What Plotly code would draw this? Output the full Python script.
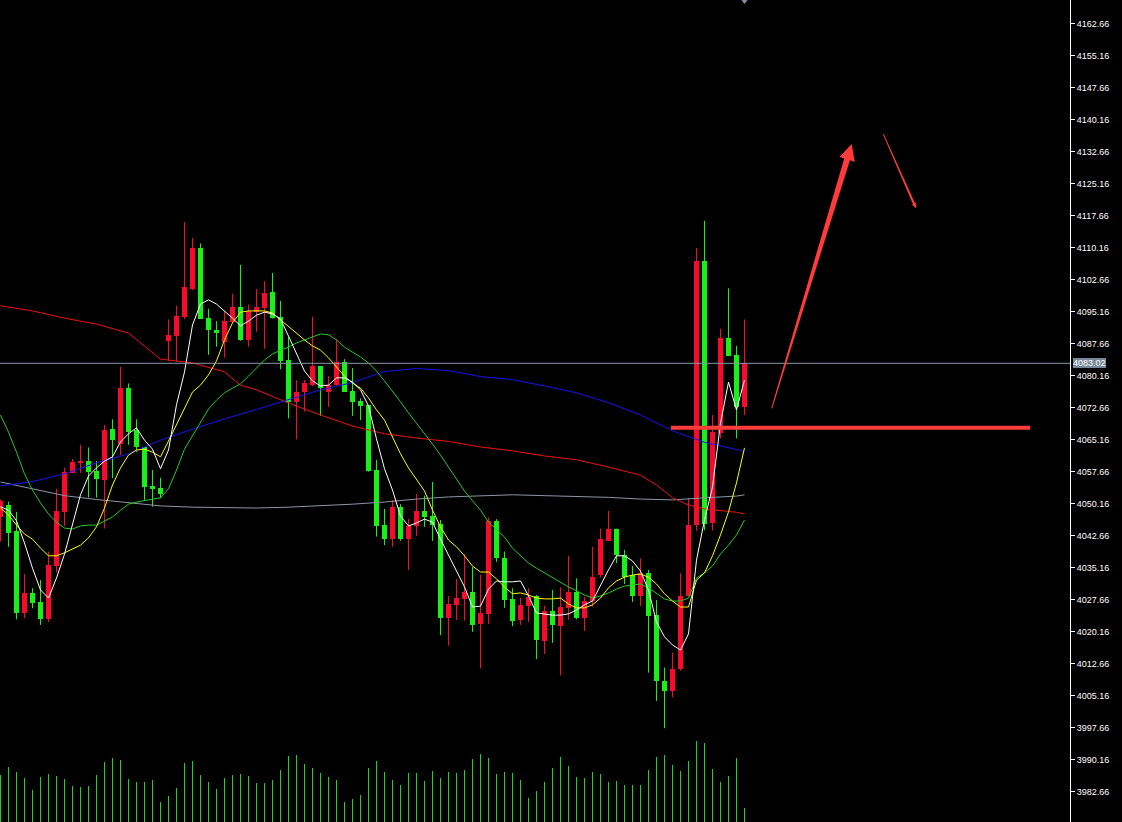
import plotly.graph_objects as go

# ---------------- data ----------------
opens = [4046.9, 4049.8, 4043.6, 4024.6, 4029.1, 4027.0, 4023.0, 4035.6, 4048.2, 4057.4,
         4059.7, 4060.1, 4057.8, 4055.7, 4067.6, 4064.1, 4077.3, 4067.4, 4063.3, 4054.3,
         4053.8, 4088.3, 4089.5, 4093.9, 4100.4, 4110.0, 4093.7, 4090.8, 4087.9, 4092.7,
         4096.2, 4088.5, 4095.1, 4096.0, 4099.7, 4093.9, 4083.8, 4074.0, 4076.2, 4077.9,
         4082.4, 4076.4, 4077.9, 4083.3, 4076.5, 4074.2, 4073.2, 4058.0, 4045.1, 4041.8,
         4049.3, 4041.8, 4044.9, 4048.4, 4047.3, 4045.4, 4023.3, 4026.4, 4027.8, 4029.5,
         4021.9, 4024.3, 4046.1, 4037.5, 4027.8, 4022.9, 4026.2, 4028.5, 4017.9, 4024.9,
         4021.4, 4025.7, 4029.4, 4023.4, 4027.4, 4033.5, 4041.4, 4044.2, 4038.1, 4033.4,
         4028.5, 4033.8, 4024.0, 4008.6, 4006.2, 4011.4, 4028.5, 4045.1, 4107.1, 4045.7,
         4066.8, 4088.9, 4085.0, 4072.8]
highs = [4051.1, 4050.6, 4048.2, 4033.6, 4030.3, 4032.2, 4038.9, 4053.6, 4058.6, 4060.6,
         4063.9, 4063.3, 4060.1, 4068.6, 4069.9, 4082.2, 4078.3, 4069.9, 4063.4, 4058.0,
         4056.2, 4093.3, 4096.5, 4116.1, 4112.4, 4111.1, 4095.8, 4092.9, 4095.3, 4099.3,
         4106.1, 4096.8, 4100.4, 4102.3, 4104.2, 4097.6, 4089.3, 4079.1, 4079.1, 4093.9,
         4082.4, 4080.0, 4088.7, 4084.0, 4081.9, 4074.8, 4073.3, 4060.4, 4048.9, 4051.0,
         4050.0, 4046.5, 4052.4, 4052.0, 4055.2, 4046.3, 4028.5, 4032.5, 4038.3, 4035.3,
         4033.4, 4046.9, 4046.5, 4038.9, 4030.3, 4028.1, 4030.3, 4028.7, 4026.2, 4029.9,
         4030.5, 4037.9, 4032.6, 4028.3, 4040.0, 4044.3, 4048.4, 4044.3, 4039.3, 4035.5,
         4037.3, 4034.6, 4027.5, 4011.7, 4015.2, 4033.8, 4051.4, 4110.0, 4116.4, 4070.9,
         4091.1, 4100.6, 4087.1, 4093.3]
lows = [4041.2, 4040.0, 4023.0, 4023.3, 4025.6, 4021.7, 4022.4, 4034.0, 4044.9, 4057.3,
        4057.3, 4051.6, 4051.5, 4044.3, 4056.1, 4061.5, 4063.9, 4062.2, 4051.0, 4049.4,
        4051.4, 4083.6, 4083.4, 4093.4, 4100.2, 4093.5, 4085.0, 4086.9, 4084.3, 4092.5,
        4088.3, 4086.9, 4090.4, 4086.4, 4093.5, 4081.6, 4070.1, 4065.2, 4071.7, 4077.7,
        4070.7, 4072.8, 4077.8, 4076.3, 4070.7, 4069.7, 4057.6, 4042.4, 4040.4, 4040.0,
        4041.4, 4034.6, 4042.6, 4044.7, 4041.4, 4019.3, 4016.8, 4022.9, 4022.7, 4020.1,
        4011.5, 4021.9, 4036.5, 4025.7, 4021.4, 4021.7, 4022.4, 4013.7, 4014.9, 4017.5,
        4009.9, 4022.9, 4023.0, 4020.3, 4026.0, 4032.8, 4041.3, 4036.2, 4031.3, 4027.1,
        4026.1, 4010.5, 4003.9, 3997.5, 4004.7, 4011.0, 4028.4, 4043.8, 4043.9, 4043.8,
        4065.4, 4084.7, 4065.4, 4070.9]
closes = [4050.8, 4043.3, 4024.6, 4029.1, 4026.9, 4023.0, 4035.7, 4048.4, 4057.5, 4059.8,
          4060.2, 4057.6, 4055.9, 4067.4, 4065.0, 4077.3, 4067.0, 4063.3, 4054.1, 4053.6,
          4052.4, 4089.7, 4094.1, 4100.9, 4110.0, 4093.5, 4090.9, 4090.2, 4092.9, 4096.2,
          4088.5, 4095.3, 4096.2, 4099.6, 4093.6, 4083.6, 4074.0, 4076.3, 4078.4, 4082.4,
          4077.2, 4077.9, 4083.3, 4076.4, 4074.0, 4073.1, 4057.8, 4044.9, 4041.8, 4049.3,
          4041.8, 4044.9, 4048.4, 4047.1, 4045.1, 4023.3, 4026.6, 4028.1, 4029.5, 4021.7,
          4024.6, 4046.1, 4037.4, 4027.5, 4022.6, 4026.4, 4028.3, 4018.2, 4025.0, 4021.7,
          4025.9, 4029.4, 4023.3, 4027.4, 4032.9, 4041.8, 4044.2, 4038.1, 4032.9, 4028.5,
          4033.8, 4023.8, 4008.6, 4006.2, 4011.4, 4028.5, 4045.1, 4107.1, 4045.4, 4067.0,
          4088.9, 4084.8, 4072.7, 4083.02]
volumes = [47, 55, 50, 44, 32, 45, 48, 46, 43, 36, 35, 36, 47, 60, 64, 62, 43, 40, 40, 42,
           20, 26, 34, 59, 61, 47, 40, 33, 44, 47, 48, 46, 39, 39, 42, 52, 66, 67, 58, 54,
           49, 45, 42, 20, 23, 27, 54, 61, 50, 42, 37, 49, 49, 41, 51, 44, 50, 49, 52, 63,
           68, 64, 48, 50, 49, 42, 24, 31, 40, 54, 65, 56, 45, 44, 50, 48, 40, 41, 37, 37,
           37, 52, 65, 67, 57, 51, 61, 81, 79, 53, 40, 46, 64, 14]

ma5 = [4049.4, 4048.6, 4046.1, 4040.9, 4035.0, 4029.9, 4028.0, 4032.7, 4038.3, 4045.1,
       4052.2, 4056.6, 4058.5, 4060.1, 4061.1, 4064.6, 4066.5, 4067.9, 4065.0, 4062.9,
       4058.3, 4062.7, 4073.3, 4081.0, 4092.0, 4096.9, 4097.9, 4096.9, 4095.3, 4093.6,
       4091.8, 4092.9, 4094.3, 4095.0, 4094.6, 4093.4, 4089.4, 4085.4, 4081.2, 4078.9,
       4077.7, 4077.9, 4079.6, 4079.6, 4078.6, 4076.8, 4073.0, 4065.3, 4058.3, 4053.3,
       4047.2, 4044.9, 4045.6, 4046.5, 4045.8, 4041.8, 4038.1, 4034.1, 4030.6, 4025.9,
       4026.1, 4030.1, 4032.0, 4031.8, 4031.8, 4032.0, 4028.5, 4024.5, 4024.3, 4024.0,
       4024.0, 4024.3, 4025.2, 4026.4, 4027.3, 4031.1, 4034.6, 4037.9, 4037.9, 4036.7,
       4034.3, 4029.9, 4022.4, 4018.9, 4017.0, 4015.8, 4019.6, 4036.9, 4046.3, 4054.0,
       4069.0, 4078.6, 4072.1, 4079.1]
ma10 = [4049.1, 4047.5, 4045.1, 4043.0, 4041.8, 4039.7, 4037.9, 4037.9, 4038.6, 4039.5,
        4040.4, 4042.1, 4044.7, 4049.1, 4054.5, 4058.5, 4061.5, 4062.7, 4062.9, 4062.2,
        4061.1, 4064.8, 4068.6, 4072.3, 4076.3, 4077.9, 4080.3, 4083.6, 4088.5, 4092.5,
        4095.0, 4095.3, 4095.3, 4095.3, 4094.8, 4093.2, 4091.5, 4089.9, 4088.5, 4087.1,
        4086.1, 4084.3, 4082.2, 4080.0, 4078.4, 4077.2, 4074.9, 4072.1, 4069.7, 4065.8,
        4061.8, 4058.5, 4055.7, 4053.1, 4048.6, 4044.7, 4041.6, 4040.0, 4037.9, 4035.5,
        4034.1, 4034.1, 4032.5, 4030.6, 4029.0, 4029.2, 4028.7, 4028.0, 4027.8, 4027.8,
        4028.0, 4026.6, 4025.7, 4025.7, 4026.4, 4028.0, 4030.4, 4032.0, 4032.9, 4033.4,
        4033.6, 4032.9, 4031.3, 4029.0, 4027.3, 4025.9, 4025.9, 4032.2, 4033.9, 4037.9,
        4042.8, 4048.2, 4055.0, 4063.2]
ma20 = [4070.9, 4066.9, 4062.2, 4057.1, 4053.3, 4050.3, 4047.7, 4045.8, 4044.4, 4044.2,
        4044.9, 4045.1, 4045.1, 4046.1, 4047.0, 4048.6, 4050.0, 4050.5, 4050.8, 4051.2,
        4051.5, 4053.6, 4058.0, 4062.9, 4066.0, 4069.0, 4072.3, 4074.4, 4076.1, 4077.2,
        4078.2, 4080.0, 4081.9, 4083.8, 4085.2, 4086.1, 4086.8, 4087.8, 4088.5, 4089.2,
        4089.9, 4089.7, 4088.5, 4086.8, 4085.7, 4084.5, 4083.1, 4081.2, 4078.9, 4076.5,
        4074.0, 4071.4, 4069.0, 4066.7, 4064.1, 4061.5, 4058.7, 4055.9, 4053.1, 4050.8,
        4048.6, 4045.8, 4044.0, 4042.3, 4039.7, 4037.9, 4036.2, 4035.0, 4033.9, 4032.7,
        4031.5, 4030.6, 4029.7, 4028.7, 4028.0, 4028.5, 4029.2, 4030.1, 4030.8, 4031.1,
        4031.3, 4030.4, 4029.2, 4027.8, 4027.3, 4027.3, 4028.0, 4032.7, 4033.9, 4035.5,
        4038.3, 4040.4, 4042.8, 4046.3]

ma60_idx = [0, 4, 8, 12, 16, 20, 24, 28, 32, 36, 40, 44, 48, 52, 56, 60, 64, 68, 72, 76,
            80, 84, 88, 92, 93]
ma60 = [4054.3, 4055.3, 4057.1, 4059.7, 4061.8, 4065.0, 4067.6, 4070.0, 4072.2, 4074.5,
        4076.8, 4078.5, 4081.1, 4081.8, 4081.3, 4079.9, 4079.2, 4077.7, 4076.1, 4073.8,
        4070.9, 4067.2, 4064.5, 4062.8, 4062.3]

ma120_idx = [0, 4, 8, 12, 16, 18, 20, 24, 28, 30, 32, 36, 40, 44, 48, 52, 56, 60, 64, 68,
             72, 76, 80, 82, 84, 86, 88, 92, 93]
ma120 = [4096.5, 4095.3, 4093.6, 4092.2, 4090.1, 4087.1, 4084.0, 4083.1, 4081.0, 4077.9,
         4076.8, 4073.7, 4070.9, 4068.3, 4066.5, 4065.5, 4064.7, 4063.4, 4062.5, 4061.3,
         4060.4, 4058.7, 4056.8, 4054.5, 4051.5, 4049.8, 4048.9, 4048.1, 4047.7]

ma250_idx = [0, 4, 8, 12, 16, 20, 24, 28, 32, 36, 40, 44, 48, 52, 56, 60, 64, 68, 72, 76,
             80, 84, 88, 92, 93]
ma250 = [4055.2, 4053.6, 4052.0, 4051.1, 4050.3, 4049.6, 4049.3, 4049.2, 4049.1, 4049.3,
         4049.6, 4050.0, 4050.5, 4051.2, 4051.7, 4052.0, 4052.2, 4052.0, 4051.8, 4051.6,
         4051.2, 4051.0, 4051.5, 4051.9, 4052.2]

tick_labels = ["3982.66", "3990.16", "3997.66", "4005.16", "4012.66", "4020.16", "4027.66",
               "4035.16", "4042.66", "4050.16", "4057.66", "4065.16", "4072.66", "4080.16",
               "4087.66", "4095.16", "4102.66", "4110.16", "4117.66", "4125.16", "4132.66",
               "4140.16", "4147.66", "4155.16", "4162.66"]
last_price = 4083.02
last_price_text = "4083.02"
support_level = 4067.9
support_span = [83.8, 128.7]
up_arrow = [(96.40, 4072.47), (106.40, 4134.42)]      # tail, tip
down_arrow = [(110.35, 4136.76), (114.44, 4119.35)]   # tail, tip

# ---------------- styling / geometry ----------------
W, H = 1122, 822
R_MARGIN = 52
X_RANGE = [-0.0625, 133.6875]
Y_RANGE = [3975.51, 4168.17]
PX_X = (W - R_MARGIN) / (X_RANGE[1] - X_RANGE[0])
PX_Y = H / (Y_RANGE[1] - Y_RANGE[0])

UP = "#FA0A28"
DOWN = "#18F018"
VOL = "#1ED41E"
ARROW = "#FF3B3B"

n = len(closes)
idx = list(range(n))
is_up = [c >= o for o, c in zip(opens, closes)]

fig = go.Figure()

# volume (secondary axis)
vx, vy = [], []
for i, v in enumerate(volumes):
    vx += [i, i, None]
    vy += [0, v, None]
fig.add_trace(go.Scatter(x=vx, y=vy, mode="lines", yaxis="y2",
                         line=dict(color=VOL, width=1), hoverinfo="skip"))

# wicks
for flag, col in ((True, UP), (False, DOWN)):
    wx, wy = [], []
    for i in idx:
        if is_up[i] == flag:
            wx += [i, i, None]
            wy += [lows[i], highs[i], None]
    fig.add_trace(go.Scatter(x=wx, y=wy, mode="lines",
                             line=dict(color=col, width=1), hoverinfo="skip"))

# bodies
bases = [min(o, c) for o, c in zip(opens, closes)]
heights = [max(abs(c - o), 0.3) for o, c in zip(opens, closes)]
fig.add_trace(go.Bar(x=idx, base=bases, y=heights, width=0.625,
                     marker=dict(color=[UP if u else DOWN for u in is_up], line=dict(width=0)),
                     hoverinfo="skip"))

# moving averages
for xs, ys, col in ((ma250_idx, ma250, "#8C96A8"),
                    (ma120_idx, ma120, "#F01010"),
                    (ma60_idx, ma60, "#1414F0"),
                    (idx, ma20, "#22CC22"),
                    (idx, ma10, "#FFFF00"),
                    (idx, ma5, "#FFFFFF")):
    fig.add_trace(go.Scatter(x=xs, y=ys, mode="lines",
                             line=dict(color=col, width=1), hoverinfo="skip"))

# small marker at top
fig.add_trace(go.Scatter(x=[n - 1], y=[Y_RANGE[1]], mode="markers",
                         marker=dict(symbol="triangle-down", size=8, color="#7F90A4"),
                         hoverinfo="skip"))


def to_px(pt):
    return ((pt[0] - X_RANGE[0]) * PX_X, (Y_RANGE[1] - pt[1]) * PX_Y)


def to_data(p):
    return (p[0] / PX_X + X_RANGE[0], Y_RANGE[1] - p[1] / PX_Y)


def arrow_path(tail, tip, w_tail, w_shaft, w_head, l_head):
    tx, ty = to_px(tail)
    hx, hy = to_px(tip)
    dx, dy = hx - tx, hy - ty
    L = (dx * dx + dy * dy) ** 0.5
    ux, uy = dx / L, dy / L
    nx, ny = -uy, ux
    bx, by = hx - ux * l_head, hy - uy * l_head
    pts = [(tx + nx * w_tail / 2, ty + ny * w_tail / 2),
           (bx + nx * w_shaft / 2, by + ny * w_shaft / 2),
           (bx + nx * w_head / 2, by + ny * w_head / 2),
           (hx, hy),
           (bx - nx * w_head / 2, by - ny * w_head / 2),
           (bx - nx * w_shaft / 2, by - ny * w_shaft / 2),
           (tx - nx * w_tail / 2, ty - ny * w_tail / 2)]
    d = [to_data(p) for p in pts]
    return "M " + " L ".join(f"{x:.4f},{y:.4f}" for x, y in d) + " Z"


shapes = [
    dict(type="line", xref="paper", yref="y", x0=0, x1=1, y0=last_price, y1=last_price,
         line=dict(color="#8A98AA", width=1), layer="above"),
    dict(type="line", xref="x", yref="y", x0=support_span[0], x1=support_span[1],
         y0=support_level, y1=support_level, line=dict(color=ARROW, width=4), layer="above"),
    dict(type="path", xref="x", yref="y", path=arrow_path(up_arrow[0], up_arrow[1], 1, 6, 16, 16),
         fillcolor=ARROW, line=dict(width=0), layer="above"),
    dict(type="path", xref="x", yref="y", path=arrow_path(down_arrow[0], down_arrow[1], 0.8, 2.2, 4.5, 5),
         fillcolor=ARROW, line=dict(width=0), layer="above"),
]

fig.update_layout(
    width=W, height=H,
    margin=dict(l=0, r=R_MARGIN, t=0, b=0, pad=0),
    paper_bgcolor="black", plot_bgcolor="black",
    showlegend=False, barmode="overlay", bargap=0,
    xaxis=dict(range=X_RANGE, visible=False, showgrid=False, zeroline=False),
    yaxis=dict(range=Y_RANGE, side="right", showgrid=False, zeroline=False,
               tickvals=[float(t) for t in tick_labels], ticktext=tick_labels,
               ticks="outside", ticklen=4, tickwidth=1, tickcolor="white",
               showline=True, linecolor="white", linewidth=1,
               tickfont=dict(color="white", size=9, family="Liberation Sans")),
    yaxis2=dict(range=[0, H], overlaying="y", visible=False, showgrid=False),
    shapes=shapes,
    annotations=[dict(x=1, xref="paper", y=last_price, yref="y", text=last_price_text,
                      showarrow=False, xanchor="left", xshift=3, bgcolor="#778899",
                      borderpad=0, borderwidth=0,
                      font=dict(color="white", size=9, family="Liberation Sans"))],
)

fig.write_html("out.html", config={"displayModeBar": False},
               post_script="document.body.style.margin='0';document.body.style.background='black';")
